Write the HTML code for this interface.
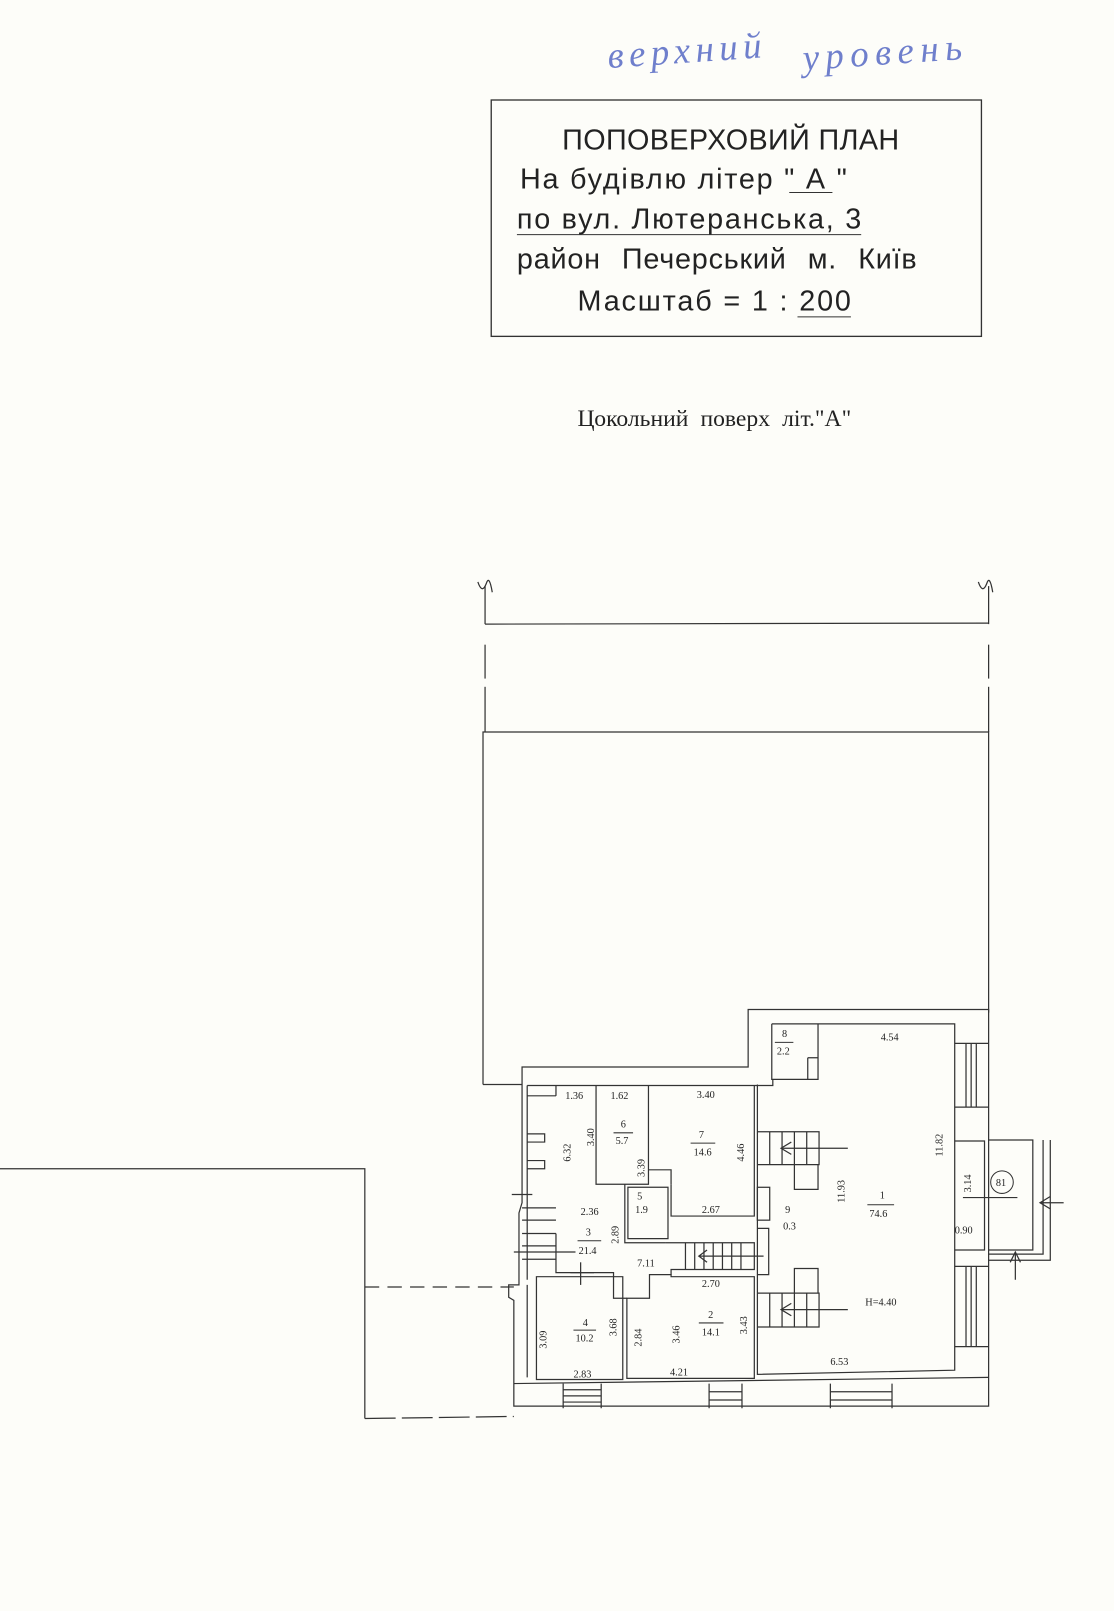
<!DOCTYPE html>
<html><head><meta charset="utf-8"><style>
html,body{margin:0;padding:0;background:#fdfdf9;}
svg{display:block;}
.s{font-family:"Liberation Serif",serif;font-size:10px;fill:#222;}
</style></head><body>
<svg width="1114" height="1611" viewBox="0 0 1084 1567" xmlns="http://www.w3.org/2000/svg">
<rect width="1084" height="1567" fill="#fdfdf9"/>
<text x="592" y="66" font-family="Liberation Serif,serif" font-style="italic" font-size="36" fill="#6f7fcc" transform="rotate(-4 592 66)" textLength="150">верхний</text>
<text x="782" y="68" font-family="Liberation Serif,serif" font-style="italic" font-size="36" fill="#6f7fcc" transform="rotate(-4 782 68)" textLength="155">уровень</text>
<rect x="478" y="97" width="477" height="230" fill="none" stroke="#333" stroke-width="1.3"/>
<g font-family="Liberation Sans,sans-serif" font-size="28" fill="#222">
<text x="547" y="145" textLength="328">ПОПОВЕРХОВИЙ ПЛАН</text>
<text x="506" y="183" textLength="318">На будівлю літер " А "</text>
<text x="503" y="222" textLength="335">по вул. Лютеранська, 3</text>
<text x="503" y="261" textLength="389" word-spacing="12">район  Печерський  м. Київ</text>
<text x="562" y="302" textLength="266">Масштаб = 1 : 200</text>
</g>
<line x1="768" y1="187" x2="810" y2="187" stroke="#333"/>
<line x1="503" y1="228" x2="838" y2="228" stroke="#333"/>
<line x1="776" y1="308" x2="828" y2="308" stroke="#333"/>
<text x="562" y="414" font-family="Liberation Serif,serif" font-size="23" fill="#222" word-spacing="6">Цокольний поверх  літ."А"</text>
<g stroke="#333" stroke-width="1.2" fill="none">
<path d="M465,566 q4,12 8,2 q3,-10 6,8"/><path d="M952,566 q4,12 8,2 q3,-10 6,8"/>
<line x1="472" y1="570" x2="472" y2="607"/><line x1="962" y1="570" x2="962" y2="607"/>
<line x1="472" y1="607" x2="962" y2="606"/>
<line x1="472" y1="627" x2="472" y2="660"/><line x1="962" y1="627" x2="962" y2="660"/>
<line x1="472" y1="668" x2="472" y2="712"/><line x1="962" y1="668" x2="962" y2="712"/>
</g>
<g stroke="#333" stroke-width="1.2" fill="none">
<path d="M470,1055 V712 H962 V985"/>
<line x1="470" y1="1055" x2="508" y2="1055"/>
<path d="M0,1137 H355 V1380"/>
<line x1="355" y1="1252" x2="500" y2="1252" stroke-dasharray="14,8"/>
<line x1="355" y1="1380" x2="500" y2="1378" stroke-dasharray="30,6"/>
<path d="M508,1038 H728 V982 H962 V1368 H500 V1265 L495,1262 V1250 H505 V1180 L508,1170 Z"/>
<path d="M513,1056 H752 V1050 M751,996 H929 V1333 L737,1337 V1055"/>
<path d="M513,1056 V1245 M513,1250 V1340"/>
<path d="M541,1066 V1056 M513,1066 H541"/>
<path d="M513,1103 H530 V1111 H513 M513,1129 H530 V1137 H513"/>
<path d="M541,1200 V1238 H597 V1263 H610"/>
<path d="M580,1056 V1152 H631 V1056 M631,1152 V1138 H653 V1152"/>
<path d="M653,1152 V1183 H734 V1056"/>
<path d="M608,1152 V1209 H648 M611,1155 H650 V1205 H611 Z"/>
<path d="M522,1242 H606 V1342 H522 Z"/>
<path d="M610,1263 H632 V1240 H653 V1242 H734 V1263 V1341 H610 Z"/>
<path d="M648,1209 H734 V1235 H653 V1240"/>
<path d="M667,1209 V1235 M676,1209 V1235 M685,1209 V1235 M694,1209 V1235 M703,1209 V1235 M712,1209 V1235 M721,1209 V1235"/>
<line x1="680" y1="1222" x2="743" y2="1222"/>
<path d="M688,1216 L680,1222 L688,1228"/>
<path d="M508,1175 H541 M508,1187 H541 M508,1200 H541 M508,1212 H541 M508,1225 H541"/>
<line x1="500" y1="1218" x2="560" y2="1218"/>
<line x1="565" y1="1228" x2="565" y2="1250"/><line x1="555" y1="1238" x2="578" y2="1238"/>
<line x1="498" y1="1162" x2="518" y2="1162"/>
<path d="M751,996 V1050 H796 V996 M786,1029 H796 M786,1029 V1050"/>
<path d="M737,1101 H797 V1133 H737 M773,1133 V1157 H796 V1133"/>
<path d="M749,1101 V1133 M761,1101 V1133 M773,1101 V1133 M785,1101 V1133"/>
<line x1="760" y1="1117" x2="825" y2="1117"/><path d="M770,1111 L760,1117 L770,1123"/>
<path d="M737,1258 H797 V1291 H737 M773,1258 V1234 H796 V1258"/>
<path d="M749,1258 V1291 M761,1258 V1291 M773,1258 V1291 M785,1258 V1291"/>
<line x1="760" y1="1274" x2="825" y2="1274"/><path d="M770,1268 L760,1274 L770,1280"/>
<rect x="737" y="1155" width="12" height="32"/>
<path d="M737,1195 H748 V1240 H737"/>
<path d="M929,1015 H962 M929,1077 H962 M940,1015 V1077 M945,1015 V1077 M950,1015 V1077"/>
<path d="M929,1110 H958 V1216 H929 M929,1232 H962 M929,1310 H962 M940,1232 V1310 M945,1232 V1310 M950,1232 V1310"/>
<path d="M962,1109 H1005 V1216 H962 M962,1220 H1015 V1109 M962,1226 H1022 V1109"/>
<line x1="1012" y1="1170" x2="1035" y2="1170"/><path d="M1022,1164 L1012,1170 L1022,1176"/>
<line x1="988" y1="1218" x2="988" y2="1245"/><path d="M983,1228 L988,1218 L993,1228"/>
<line x1="937" y1="1165" x2="990" y2="1165"/>
<path d="M548,1346 V1370 M585,1346 V1370 M548,1352 H585 M548,1358 H585 M548,1364 H585"/>
<path d="M690,1346 V1370 M722,1346 V1370 M690,1354 H722 M690,1362 H722"/>
<path d="M808,1346 V1370 M868,1346 V1370 M808,1354 H868 M808,1362 H868"/>
<line x1="500" y1="1346" x2="962" y2="1340"/>
</g>
<circle cx="975" cy="1150" r="11" fill="none" stroke="#333"/>
<text x="969" y="1154" class="s" font-size="8">81</text>
<g class="s">
<text x="550" y="1069">1.36</text><text x="594" y="1069">1.62</text><text x="678" y="1068">3.40</text>
<text x="604" y="1097">6</text><text x="599" y="1113">5.7</text><line x1="597" y1="1102" x2="616" y2="1102" stroke="#333"/>
<text x="680" y="1107">7</text><text x="675" y="1124">14.6</text><line x1="672" y1="1112" x2="696" y2="1112" stroke="#333"/>
<text x="620" y="1167">5</text><text x="618" y="1180">1.9</text>
<text x="565" y="1182">2.36</text><text x="683" y="1180">2.67</text>
<text x="570" y="1202">3</text><text x="563" y="1220">21.4</text><line x1="562" y1="1207" x2="585" y2="1207" stroke="#333"/>
<text x="620" y="1232">7.11</text><text x="683" y="1252">2.70</text>
<text x="567" y="1290">4</text><text x="560" y="1305">10.2</text><line x1="558" y1="1294" x2="580" y2="1294" stroke="#333"/>
<text x="689" y="1282">2</text><text x="683" y="1299">14.1</text><line x1="680" y1="1287" x2="704" y2="1287" stroke="#333"/>
<text x="558" y="1340">2.83</text><text x="652" y="1338">4.21</text><text x="808" y="1328">6.53</text>
<text x="857" y="1012">4.54</text><text x="761" y="1009">8</text><text x="756" y="1026">2.2</text>
<line x1="754" y1="1014" x2="772" y2="1014" stroke="#333"/>
<text x="856" y="1166">1</text><text x="846" y="1184">74.6</text><line x1="844" y1="1172" x2="870" y2="1172" stroke="#333"/>
<text x="764" y="1180">9</text><text x="762" y="1196">0.3</text>
<text x="842" y="1270">H=4.40</text><text x="929" y="1200">0.90</text>
</g>
<g class="s">
<text transform="translate(555,1130) rotate(-90)">6.32</text>
<text transform="translate(578,1115) rotate(-90)">3.40</text>
<text transform="translate(627,1145) rotate(-90)">3.39</text>
<text transform="translate(724,1130) rotate(-90)">4.46</text>
<text transform="translate(602,1210) rotate(-90)">2.89</text>
<text transform="translate(532,1312) rotate(-90)">3.09</text>
<text transform="translate(600,1300) rotate(-90)">3.68</text>
<text transform="translate(624,1310) rotate(-90)">2.84</text>
<text transform="translate(661,1307) rotate(-90)">3.46</text>
<text transform="translate(727,1298) rotate(-90)">3.43</text>
<text transform="translate(822,1170) rotate(-90)">11.93</text>
<text transform="translate(917,1125) rotate(-90)">11.82</text>
<text transform="translate(945,1160) rotate(-90)">3.14</text>
</g>
</svg>
</body></html>
